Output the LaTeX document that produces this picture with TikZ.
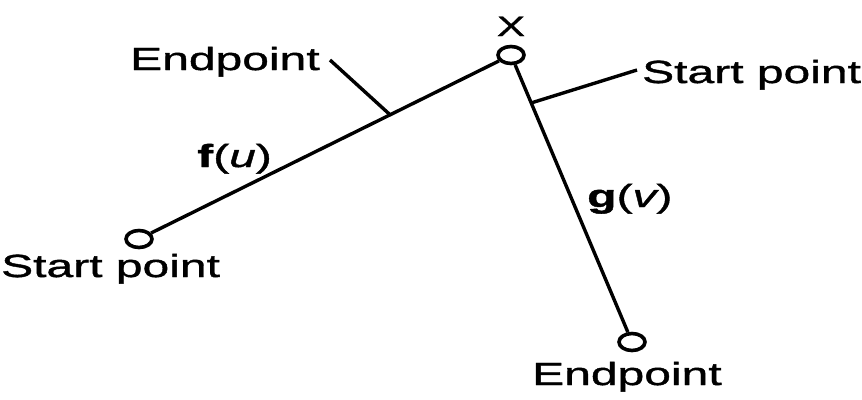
\documentclass[tikz,border=0pt]{standalone}
\usepackage{fontspec}
\setmainfont{Liberation Sans}[FakeStretch=1.5,FakeBold=1.3]
\usetikzlibrary{shapes.geometric,calc}
\begin{document}
\begin{tikzpicture}[x=1pt,y=-1pt,
  pt/.style={ellipse,draw,line width=3.6pt,minimum width=26pt,minimum height=17pt,inner sep=0pt},
  seg/.style={line width=3.4pt},
  lbl/.style={inner sep=0pt,font=\fontsize{32}{36}\selectfont},
]
\useasboundingbox (0,0) rectangle (862,399);
\node[pt] (X) at (511,55) {};
\node[pt] (S1) at (139,239) {};
\node[pt] (E2) at (632,342) {};
\draw[seg] (S1) -- (X);
\draw[seg] (X) -- (E2);
\coordinate (e1) at ($(S1.center)!0.675!(X.center)$);
\coordinate (s2) at ($(X.center)!0.167!(E2.center)$);
\coordinate (e1t) at (330,60);
\coordinate (s2t) at (637,70);
\draw[seg] (e1t) -- (e1);
\draw[seg] (s2t) -- (s2);
\node[lbl,anchor=base west] (ep1) at (130,70) {Endpoint};
\node[lbl,anchor=base west] (sp2) at (642,83) {Start point};
\node[lbl,anchor=base west] (sp1) at (1,277) {Start point};
\node[lbl,anchor=base west] (ep2) at (532,385) {Endpoint};
\node[lbl,anchor=base west] (fu) at (197,167) {{\bfseries f}({\itshape u})};
\node[lbl,anchor=base west] (gv) at (587,207) {{\bfseries g}({\itshape v})};
\node[lbl,anchor=base,font=\fontsize{28}{32}\selectfont] (xl) at (511,36) {X};
\end{tikzpicture}
\end{document}
